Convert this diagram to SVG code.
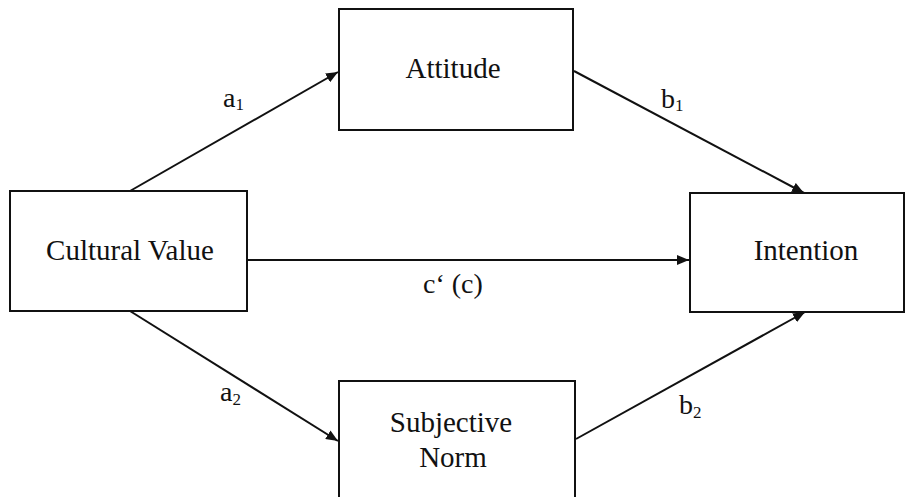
<svg xmlns="http://www.w3.org/2000/svg" width="913" height="497" viewBox="0 0 913 497">
<style>
text{font-family:'Liberation Serif','Times New Roman',Tinos,'Noto Serif','DejaVu Serif',serif;fill:#111}
.box{fill:#fff;stroke:#111;stroke-width:2}
.lbl{font-size:29px;text-anchor:middle}
.el{font-size:28px}
.sub{font-size:17px}
.edge{stroke:#111;stroke-width:2;fill:none;marker-end:url(#ah)}
</style>
<defs>
<marker id="ah" viewBox="0 0 12 10" refX="12" refY="5" markerWidth="12" markerHeight="10" markerUnits="userSpaceOnUse" orient="auto">
<path d="M0,0 L12,5 L0,10 Z" fill="#111"/>
</marker>
</defs>
<rect width="913" height="497" fill="#fff"/>
<g id="connectors">
<line class="edge" x1="130" y1="191" x2="338" y2="72"/>
<line class="edge" x1="574" y1="71" x2="804" y2="193"/>
<line class="edge" x1="247" y1="260" x2="689" y2="260"/>
<line class="edge" x1="130" y1="311" x2="338" y2="441"/>
<line class="edge" x1="576" y1="439" x2="805" y2="312"/>
<text class="el" x="223" y="107">a<tspan class="sub" dy="3">1</tspan></text>
<text class="el" x="661" y="108">b<tspan class="sub" dy="3">1</tspan></text>
<text class="el" x="423" y="293">c‘ (c)</text>
<text class="el" x="220" y="401">a<tspan class="sub" dy="4">2</tspan></text>
<text class="el" x="679" y="414">b<tspan class="sub" dy="4">2</tspan></text>
</g>
<g id="cultural-value">
<rect class="box" x="10" y="191" width="237" height="120"/>
<text class="lbl" x="130" y="260">Cultural Value</text>
</g>
<g id="attitude">
<rect class="box" x="339" y="9" width="234" height="121"/>
<text class="lbl" x="453" y="78">Attitude</text>
</g>
<g id="intention">
<rect class="box" x="690" y="193" width="214" height="119"/>
<text class="lbl" x="806" y="260">Intention</text>
</g>
<g id="subjective-norm">
<rect class="box" x="339" y="381" width="236" height="130"/>
<text class="lbl" x="451" y="432">Subjective</text>
<text class="lbl" x="453" y="467">Norm</text>
</g>
</svg>
